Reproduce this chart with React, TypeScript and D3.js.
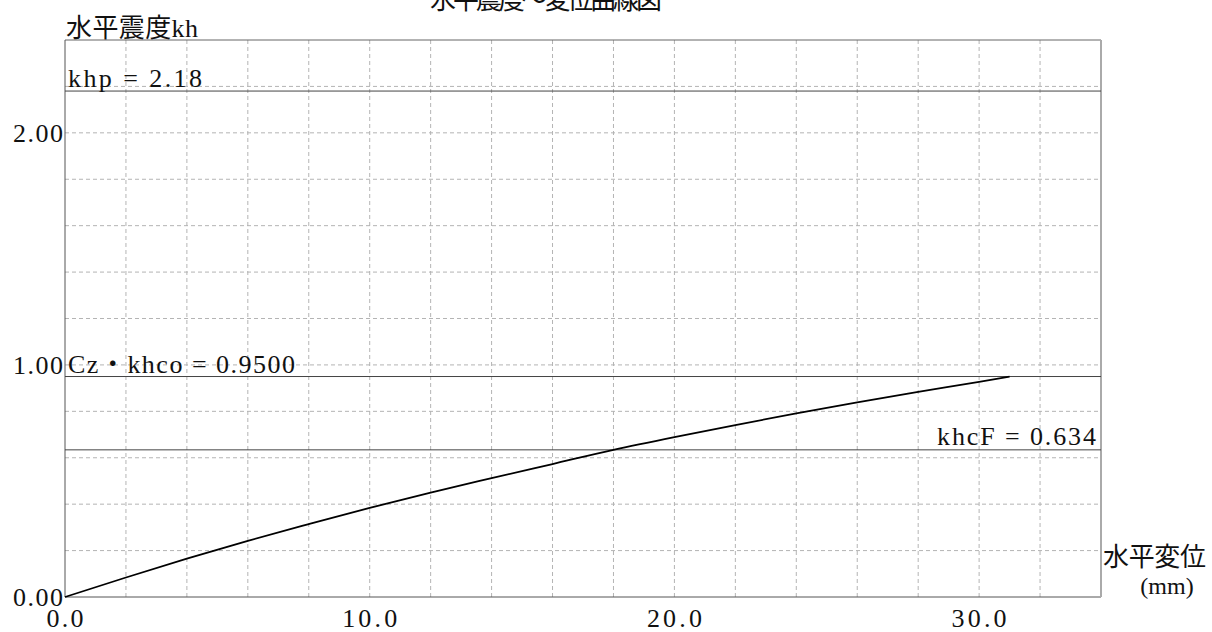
import React, { useEffect, useRef } from "react";
import * as d3 from "d3";

// 水平震度～変位曲線 data
const dispMm = [0, 2, 4, 6, 8, 10, 12, 14, 16, 18, 20, 22, 24, 26, 28, 30, 31.0];
const khValues = [0, 0.084, 0.165, 0.242, 0.314, 0.384, 0.45, 0.512, 0.573, 0.634, 0.689, 0.741, 0.791, 0.839, 0.884, 0.927, 0.95];

const xTicks = [0, 10, 20, 30];
const yTicks = [0, 1, 2];
const xGrid = d3.range(2, 34, 2);
const yGrid = d3.range(1, 12).map((i) => i * 0.2);

const refNames = ["khp = 2.18", "Cz・khco = 0.9500", "khcF = 0.634"];
const refValues = [2.18, 0.95, 0.634];

const FONT = "'Liberation Serif', 'Noto Sans CJK JP', serif";

function App() {
  const ref = useRef<SVGSVGElement | null>(null);

  useEffect(() => {
    const svg = d3.select(ref.current);
    svg.selectAll("*").remove();

    const left = 65, right = 1101, top = 40, bottom = 597;
    const x = d3.scaleLinear().domain([0, 34]).range([left, right]);
    const y = d3.scaleLinear().domain([0, 2.4]).range([bottom, top]);

    const g = svg.append("g").style("font-family", FONT).style("font-size", "26px").attr("fill", "#111");

    // mincho-like wide text: stretch to the width seen in the picture
    const label = (tx: number, ty: number, s: string, w: number | null, anchor = "start") => {
      const t = g.append("text").attr("x", tx).attr("y", ty).attr("text-anchor", anchor).text(s);
      if (w) t.attr("textLength", w).attr("lengthAdjust", "spacing");
      return t;
    };

    // grid
    g.selectAll("line.vg").data(xGrid).join("line")
      .attr("x1", (d) => x(d)).attr("x2", (d) => x(d))
      .attr("y1", top).attr("y2", bottom)
      .attr("stroke", "#b4b4b4").attr("stroke-dasharray", "4,3");
    g.selectAll("line.hg").data(yGrid).join("line")
      .attr("x1", left).attr("x2", right)
      .attr("y1", (d) => y(d)).attr("y2", (d) => y(d))
      .attr("stroke", "#b4b4b4").attr("stroke-dasharray", "4,3");

    // frame
    g.append("line").attr("x1", left).attr("x2", right).attr("y1", top).attr("y2", top).attr("stroke", "#666");
    g.append("line").attr("x1", left).attr("x2", left).attr("y1", top).attr("y2", bottom).attr("stroke", "#555");
    g.append("line").attr("x1", left).attr("x2", right).attr("y1", bottom).attr("y2", bottom).attr("stroke", "#555");
    g.append("line").attr("x1", right).attr("x2", right).attr("y1", top).attr("y2", bottom)
      .attr("stroke", "#aaa").attr("stroke-width", 2);

    // reference lines
    g.selectAll("line.ref").data(refValues).join("line")
      .attr("x1", left).attr("x2", right)
      .attr("y1", (d) => y(d)).attr("y2", (d) => y(d))
      .attr("stroke", "#444");
    label(left + 3, y(refValues[0]) - 4, refNames[0], 134);
    label(left + 3, y(refValues[1]) - 4, refNames[1], 227);
    label(right - 5, y(refValues[2]) - 5, refNames[2], 159, "end");

    // curve
    const line = d3.line<number>().x((d) => x(d)).y((d, i) => y(khValues[i])).curve(d3.curveMonotoneX);
    g.append("path").datum(dispMm).attr("d", line)
      .attr("fill", "none").attr("stroke", "#000").attr("stroke-width", 1.8);

    // tick labels
    yTicks.forEach((d) => label(left - 2, y(d) + 9, d3.format(".2f")(d), 50, "end"));
    xTicks.forEach((d) => label(x(d), 627, d3.format(".1f")(d), d === 0 ? 37 : 55, "middle"));

    // axis titles
    label(left + 1, 37, "水平震度kh", 132);
    label(right + 2, 566, "水平変位", 103);
    label(1167, 594, "(mm)", null, "middle").style("font-size", "24px");
    label(546, 9, "水平震度～変位曲線図", 232, "middle");
  }, []);

  return (
    <svg
      ref={ref}
      width={1212}
      height={632}
      style={{ position: "absolute", left: 0, top: 0, background: "#fff" }}
    />
  );
}

export default App;
